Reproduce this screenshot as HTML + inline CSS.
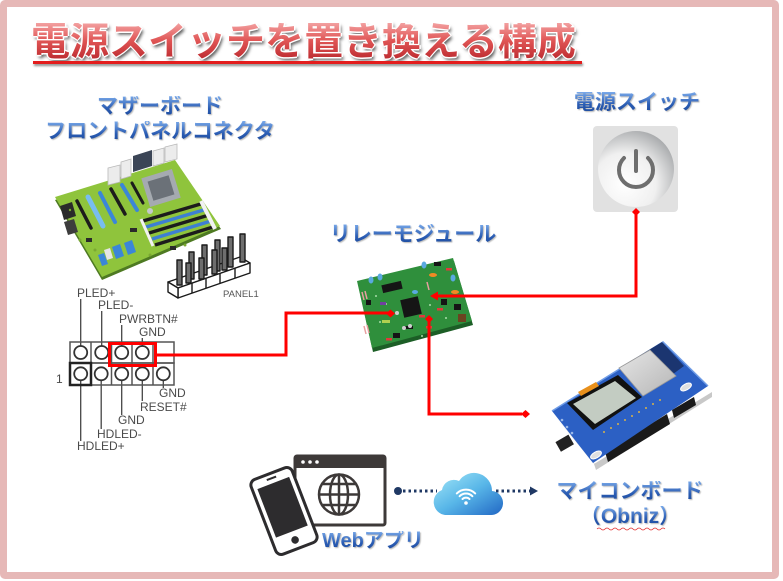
<!DOCTYPE html>
<html><head><meta charset="utf-8">
<style>
body{margin:0;width:783px;height:581px;overflow:hidden;background:#fff;position:relative;font-family:"Liberation Sans","Noto Sans CJK JP",sans-serif}
.frame{position:absolute;left:0;top:0;width:779px;height:579px;box-sizing:border-box;border:7px solid #e6b8b7;border-radius:5px;background:#fff}
.t{position:absolute;white-space:nowrap;line-height:1;font-weight:700;font-family:"Liberation Sans","Noto Sans CJK JP",sans-serif}
.blue{font-size:21px;background:linear-gradient(#79a9ea,#2a5cb3 60%,#1d4a9c);-webkit-background-clip:text;background-clip:text;color:transparent;text-align:center;filter:drop-shadow(1px 1px 0.6px rgba(0,0,0,.28))}
.tb{left:31px;top:23px;font-size:39px;color:#fff;text-shadow:1.5px 0 0 #fff,-1.5px 0 0 #fff,0 1.5px 0 #fff,0 -1.5px 0 #fff,2px 3px 3px rgba(0,0,0,.65)}
.tf{left:31px;top:23px;font-size:39px;background:linear-gradient(#f3a0a0,#e05555 45%,#b8262b);-webkit-background-clip:text;background-clip:text;color:transparent}
.ul{position:absolute;left:33px;top:61px;width:549px;height:2.5px;background:#e31d1d;box-shadow:1px 2px 2px rgba(0,0,0,.45)}
svg{position:absolute;left:0;top:0}
</style></head><body>
<div class="frame"></div>

<svg width="783" height="581" viewBox="0 0 783 581" xmlns="http://www.w3.org/2000/svg">
<defs>
<radialGradient id="btn" cx="35%" cy="70%" r="75%">
<stop offset="0" stop-color="#ffffff"/><stop offset="0.55" stop-color="#f0f0f0"/><stop offset="1" stop-color="#a9abad"/>
</radialGradient>
<linearGradient id="cloud" x1="0" y1="0" x2="1" y2="1">
<stop offset="0" stop-color="#a5e8f8"/><stop offset="0.5" stop-color="#58b6e8"/><stop offset="1" stop-color="#2167c4"/>
</linearGradient>
<linearGradient id="esp" x1="0" y1="0" x2="1" y2="1">
<stop offset="0" stop-color="#e6e6e6"/><stop offset="1" stop-color="#b5b5b5"/>
</linearGradient>
</defs>

<!-- Motherboard -->
<g>
<polygon points="55,200 175,163 221,229 102,280" fill="#4e7a22"/>
<polygon points="55,197 175,160 220,226 102,277" fill="#8fc43c"/>
<polygon points="60,206 72,202 76,216 64,220" fill="#2a2a2a"/>
<polygon points="64,222 74,219 78,232 68,235" fill="#3d3d3d"/>
<g fill="#7aa832">
<circle cx="80" cy="240" r="1.5"/><circle cx="95" cy="250" r="1.5"/><circle cx="150" cy="255" r="1.5"/><circle cx="185" cy="245" r="1.5"/><circle cx="70" cy="210" r="1.2"/>
</g>
<polygon points="108,168 120,165 120,182 108,185" fill="#ececec" stroke="#b9b9b9" stroke-width="0.8"/>
<polygon points="121,162 131,159 131,176 121,179" fill="#ececec" stroke="#b9b9b9" stroke-width="0.8"/>
<polygon points="133,156 152,150 152,166 133,172" fill="#3b4556"/>
<polygon points="153,151 164,148 164,163 153,166" fill="#ececec" stroke="#b9b9b9" stroke-width="0.8"/>
<polygon points="165,147 177,144 177,159 165,162" fill="#ececec" stroke="#b9b9b9" stroke-width="0.8"/>
<g transform="translate(161,188) rotate(-17)">
<rect x="-16" y="-15" width="32" height="30" fill="#a5aab0"/>
<rect x="-11" y="-10" width="22" height="20" fill="#6b7178"/>
</g>
<circle cx="150" cy="211" r="3" fill="#c4c8cc"/>
<g stroke-linecap="butt">
<line x1="143" y1="221" x2="204" y2="203" stroke="#1c1c1c" stroke-width="3.5"/>
<line x1="146" y1="227" x2="207" y2="209" stroke="#3d7fd4" stroke-width="3.5"/>
<line x1="149" y1="233" x2="209" y2="215" stroke="#1c1c1c" stroke-width="3.5"/>
<line x1="152" y1="239" x2="211" y2="221" stroke="#3d7fd4" stroke-width="3.5"/>
<line x1="155" y1="245" x2="213" y2="227" stroke="#1c1c1c" stroke-width="3.5"/>
<line x1="201" y1="201" x2="215" y2="229" stroke="#f2f2f2" stroke-width="4"/>
<line x1="141" y1="219" x2="153" y2="246" stroke="#f2f2f2" stroke-width="3"/>
</g>
<g stroke-linecap="round">
<line x1="77" y1="201" x2="91" y2="228" stroke="#1c1c1c" stroke-width="3.5"/>
<line x1="88" y1="197" x2="103" y2="226" stroke="#78bdf0" stroke-width="5"/>
<line x1="100" y1="193" x2="115" y2="222" stroke="#3b86d8" stroke-width="4"/>
<line x1="111" y1="189" x2="125" y2="214" stroke="#1c1c1c" stroke-width="3.5"/>
<line x1="122" y1="185" x2="137" y2="210" stroke="#3b86d8" stroke-width="4"/>
<line x1="132" y1="183" x2="143" y2="203" stroke="#1c1c1c" stroke-width="3"/>
</g>
<g fill="#3b86d8">
<polygon points="112,247 120,244 124,256 116,259"/>
<polygon points="124,243 132,240 136,252 128,255"/>
<polygon points="98,255 104,253 108,264 102,266"/>
</g>
<g fill="#e6e6e6"><polygon points="104,250 110,248 113,258 107,260"/></g>
<g fill="#2a2a2a"><rect x="86" y="238" width="6" height="4"/><rect x="130" y="228" width="7" height="4"/><rect x="170" y="246" width="6" height="4"/></g>
</g>

<!-- PANEL1 pins drawing -->
<g stroke="#1a1a1a" stroke-width="1.4" stroke-linejoin="round">
<polygon points="168,282 240,257 250,263 178,288" fill="#fff"/>
<polygon points="178,288 250,263 250,273 178,298" fill="#fff"/>
<polygon points="168,282 178,288 178,298 168,292" fill="#fff"/>
<line x1="192" y1="283" x2="192" y2="293"/><line x1="206" y1="278" x2="206" y2="288"/><line x1="220" y1="273" x2="220" y2="283"/><line x1="235" y1="268" x2="235" y2="278"/>
<g fill="#6e6e6e">
<rect x="189" y="252" width="5" height="27"/>
<rect x="202" y="245" width="5" height="30"/>
<rect x="215" y="240" width="5" height="31"/>
<rect x="228" y="237" width="5" height="30"/>
<rect x="240" y="234" width="5" height="28"/>
<rect x="177" y="260" width="5" height="25"/>
<rect x="186" y="263" width="5" height="20"/>
<rect x="199" y="258" width="5" height="21"/>
<rect x="212" y="250" width="5" height="24"/>
<rect x="222" y="248" width="5" height="22"/>
</g>
</g>
<text x="223" y="297" font-family="Liberation Sans" font-size="9.5" fill="#555">PANEL1</text>

<!-- Pin header -->
<g fill="none" stroke="#444" stroke-width="1.3">
<line x1="80.7" y1="299" x2="80.7" y2="345.5"/>
<line x1="101.7" y1="311" x2="101.7" y2="345.5"/>
<line x1="121.7" y1="325" x2="121.7" y2="345.5"/>
<line x1="142.3" y1="338" x2="142.3" y2="345.5"/>
<line x1="163.3" y1="380" x2="163.3" y2="388"/>
<line x1="142.3" y1="380" x2="142.3" y2="401"/>
<line x1="121.7" y1="380" x2="121.7" y2="415"/>
<line x1="101.2" y1="380" x2="101.2" y2="429"/>
<line x1="80.7" y1="380" x2="80.7" y2="441"/>
</g>
<g fill="none" stroke="#555" stroke-width="1.5">
<rect x="70" y="342" width="104" height="21"/>
<rect x="70" y="363" width="104" height="22"/>
<line x1="91" y1="342" x2="91" y2="385"/><line x1="111.5" y1="342" x2="111.5" y2="385"/><line x1="132" y1="342" x2="132" y2="385"/><line x1="153" y1="342" x2="153" y2="385"/>
</g>
<rect x="70" y="363" width="21" height="22" fill="none" stroke="#222" stroke-width="2.5"/>
<g fill="#fff" stroke="#333" stroke-width="1.8">
<circle cx="80.7" cy="352.5" r="6.5"/><circle cx="101.7" cy="352.5" r="6.5"/><circle cx="121.7" cy="352.5" r="6.5"/><circle cx="142.3" cy="352.5" r="6.5"/>
<circle cx="80.7" cy="373.8" r="6.5"/><circle cx="101.2" cy="373.8" r="6.5"/><circle cx="121.7" cy="373.8" r="6.5"/><circle cx="142.3" cy="373.8" r="6.5"/><circle cx="163.3" cy="373.8" r="6.5"/>
</g>
<g font-family="Liberation Sans" font-size="12" fill="#4a4a4a">
<text x="77" y="297">PLED+</text>
<text x="98" y="309">PLED-</text>
<text x="119" y="323">PWRBTN#</text>
<text x="139" y="336">GND</text>
<text x="159" y="397">GND</text>
<text x="140" y="411">RESET#</text>
<text x="118" y="424">GND</text>
<text x="97" y="438">HDLED-</text>
<text x="77" y="450">HDLED+</text>
<text x="56" y="383">1</text>
</g>
<rect x="109.5" y="343.5" width="46" height="22" fill="none" stroke="#ff0000" stroke-width="3"/>

<!-- Relay module -->
<g>
<polygon points="358,284 454,261 473,325 373,352" fill="#1c5e26"/>
<polygon points="357,281 453,258 472,321 372,348" fill="#2f8f3c"/>
<g transform="translate(411,307) rotate(-13)"><rect x="-9" y="-9" width="18" height="18" fill="#151515"/></g>
<g transform="translate(392,287) rotate(-13)"><rect x="-10" y="-4" width="20" height="8" fill="#151515"/></g>
<g fill="#5aa9e0"><ellipse cx="371" cy="280" rx="2.5" ry="3.5"/><ellipse cx="380" cy="277" rx="2.5" ry="3.5"/><ellipse cx="424" cy="265" rx="2.5" ry="3.5"/><ellipse cx="453" cy="278" rx="2.5" ry="3.5"/><ellipse cx="415" cy="292" rx="3" ry="2"/></g>
<g fill="#f08a24"><ellipse cx="433" cy="275" rx="4" ry="2"/><ellipse cx="455" cy="292" rx="4" ry="2"/></g>
<g fill="#151515"><rect x="454" y="304" width="7" height="6"/><rect x="393" y="333" width="7" height="5"/><rect x="366" y="300" width="5" height="5"/><rect x="441" y="299" width="6" height="6"/><rect x="405" y="326" width="8" height="3"/><rect x="434" y="262" width="7" height="4"/></g>
<rect x="458" y="314" width="8" height="8" fill="#6b4420"/>
<g fill="#e03a3a"><rect x="419" y="315" width="6" height="2.5"/><rect x="426" y="326" width="6" height="2.5"/><rect x="386" y="338" width="6" height="2.5"/><rect x="437" y="308" width="6" height="2.5"/><rect x="446" y="268" width="6" height="2.5"/></g>
<g stroke="#e8a0a0" stroke-width="1.5"><line x1="362" y1="292" x2="364" y2="300"/><line x1="365" y1="291" x2="367" y2="299"/><line x1="364" y1="326" x2="366" y2="334"/><line x1="367" y1="325" x2="369" y2="333"/><line x1="427" y1="282" x2="429" y2="290"/></g>
<g fill="#cfcfcf"><circle cx="397" cy="313" r="2"/><circle cx="404" cy="328" r="2"/><circle cx="410" cy="326" r="2"/></g>
<g fill="#a8dca8"><circle cx="376" cy="296" r="1"/><circle cx="386" cy="304" r="1"/><circle cx="430" cy="305" r="1"/><circle cx="446" cy="318" r="1"/><circle cx="380" cy="322" r="1"/><circle cx="422" cy="336" r="1"/><circle cx="461" cy="296" r="1"/></g>
<rect x="382" y="320" width="8" height="3" fill="#b0d050"/>
<rect x="380" y="302" width="6" height="3" fill="#7040a0"/>
</g>

<!-- Power switch -->
<rect x="593" y="126" width="85" height="86" rx="4" fill="#e1e1e1"/>
<circle cx="636" cy="169" r="38" fill="url(#btn)"/>
<path d="M624,158 A17,17 0 1 0 648,158" fill="none" stroke="#6e6e6e" stroke-width="4" stroke-linecap="round"/>
<line x1="636" y1="151" x2="636" y2="171" stroke="#6e6e6e" stroke-width="4" stroke-linecap="round"/>

<!-- Obniz -->
<g>
<polygon points="553,414 595,465 600,470 558,420" fill="#d8d8d8"/>
<polygon points="596,470 712,397 712,392 594,464" fill="#c8c8c8"/>
<polygon points="605,452 667,414 670,424 608,462" fill="#1a1a1a"/>
<polygon points="672,410 694,397 696,405 674,418" fill="#1a1a1a"/>
<polygon points="552,411 663,342 708,386 593,463" fill="#2c60c4"/>
<polyline points="552,411 663,342 708,386" fill="none" stroke="#6f9ce6" stroke-width="1.5"/>
<polygon points="619,368 662,342 684,366 643,396" fill="#1b3570"/>
<polygon points="619,368 650,350 676,376 643,396" fill="url(#esp)" stroke="#9a9a9a" stroke-width="0.8"/>
<polygon points="567,403 618,375 642,397 593,430" fill="#111"/>
<polygon points="573,404 615,381 636,398 595,424" fill="#c3ccc2"/>
<polygon points="578,392 596,382 599,386 581,396" fill="#e8901c"/>
<rect x="557" y="438" width="15" height="11" fill="#222" transform="rotate(-30 564 443)"/>
<ellipse cx="686" cy="387" rx="6" ry="3" fill="#e0e0e0" stroke="#fff" transform="rotate(-30 686 387)"/>
<ellipse cx="596" cy="455" rx="6" ry="3" fill="#e0e0e0" stroke="#fff" transform="rotate(-30 596 455)"/>
<g fill="#d9b24a"><circle cx="604" cy="432" r="1"/><circle cx="611" cy="428" r="1"/><circle cx="618" cy="424" r="1"/><circle cx="625" cy="420" r="1"/><circle cx="632" cy="416" r="1"/><circle cx="639" cy="412" r="1"/><circle cx="646" cy="408" r="1"/><circle cx="653" cy="404" r="1"/><circle cx="660" cy="400" r="1"/></g>
<g fill="#9ab8e8"><circle cx="562" cy="420" r="1.3"/><circle cx="567" cy="427" r="1.3"/><circle cx="572" cy="433" r="1.3"/></g>
</g>

<!-- Red connectors -->
<g fill="none" stroke="#ff0000" stroke-width="3" stroke-linejoin="miter">
<polyline points="157,355 286,355 286,313 388,313"/>
<polyline points="636,214 636,296 437,296"/>
<polyline points="429,321 429,414 522,414"/>
</g>
<g fill="#ff0000">
<polygon points="386,313.5 390.5,309.5 395,313.5 390.5,317.5"/>
<polygon points="430,296 438,291.5 438,300.5"/>
<polygon points="632,212 636,208 640,212 636,216"/>
<polygon points="425,319 429,315 433,319 429,323"/>
<polygon points="521,414 525.5,410 530,414 525.5,418"/>
</g>

<!-- Web app icons -->
<rect x="295" y="456" width="90" height="69" rx="2" fill="#fff" stroke="#3d3938" stroke-width="3"/>
<rect x="295" y="456" width="90" height="12" fill="#3d3938"/>
<g fill="#fff"><circle cx="303" cy="462" r="1.8"/><circle cx="310" cy="462" r="1.8"/><circle cx="317" cy="462" r="1.8"/></g>
<g fill="none" stroke="#3d3938" stroke-width="2.5">
<circle cx="339" cy="494.5" r="20"/>
<ellipse cx="339" cy="494.5" rx="9" ry="20"/>
<line x1="339" y1="474.5" x2="339" y2="514.5"/>
<line x1="319" y1="494.5" x2="359" y2="494.5"/>
<line x1="323" y1="484" x2="355" y2="484"/>
<line x1="323" y1="505" x2="355" y2="505"/>
</g>
<g transform="translate(284,511) rotate(-21)">
<rect x="-22" y="-40" width="44" height="80" rx="6" fill="#fff" stroke="#2d2c2e" stroke-width="3"/>
<rect x="-17" y="-30" width="34" height="52" fill="#2d2c2e"/>
<circle cx="0" cy="31" r="3.8" fill="#2d2c2e"/>
<line x1="-5" y1="-35" x2="5" y2="-35" stroke="#2d2c2e" stroke-width="2"/>
</g>

<!-- Dotted arrow & cloud -->
<circle cx="398" cy="491" r="4" fill="#1f3864"/>
<line x1="403" y1="491" x2="437" y2="491" stroke="#1f3864" stroke-width="3" stroke-dasharray="2.5 3"/>
<line x1="496" y1="491" x2="531" y2="491" stroke="#1f3864" stroke-width="3" stroke-dasharray="2.5 3"/>
<polygon points="530,486.5 538,491 530,495.5" fill="#1f3864"/>
<path d="M445,515 H490 A12,12 0 0 0 492,491 A18,18 0 0 0 459,481 A12,12 0 0 0 442,490 A13,13 0 0 0 445,515 Z" fill="url(#cloud)"/>
<g fill="none" stroke="#fff" stroke-width="2" stroke-linecap="round">
<path d="M462.5,499 A5,5 0 0 1 469.5,499"/>
<path d="M459.6,496.2 A9,9 0 0 1 472.4,496.2"/>
<path d="M456.8,493.4 A13,13 0 0 1 475.2,493.4"/>
</g>
<circle cx="466" cy="503" r="1.8" fill="#fff"/>
<path d="M597,529 q2,-2 4,0 t4,0 t4,0 t4,0 t4,0 t4,0 t4,0 t4,0 t4,0 t4,0 t4,0 t4,0 t4,0 t4,0 t4,0 t4,0 t4,0" fill="none" stroke="#e03030" stroke-width="0.8"/>
</svg>

<div class="t tb">電源スイッチを置き換える構成</div>
<div class="t tf">電源スイッチを置き換える構成</div>
<div class="ul"></div>

<div class="t blue" style="left:60px;top:96px;width:200px;">マザーボード</div>
<div class="t blue" style="left:30px;top:121px;width:260px;">フロントパネルコネクタ</div>
<div class="t blue" style="left:557px;top:92px;width:160px;">電源スイッチ</div>
<div class="t blue" style="left:313px;top:224px;width:200px;">リレーモジュール</div>
<div class="t blue" style="left:530px;top:481px;width:200px;">マイコンボード</div>
<div class="t blue" style="left:530px;top:506px;width:200px;">（Obniz）</div>
<div class="t blue" style="left:322px;top:531px;font-size:20px;text-align:left;">Webアプリ</div>
</body></html>
